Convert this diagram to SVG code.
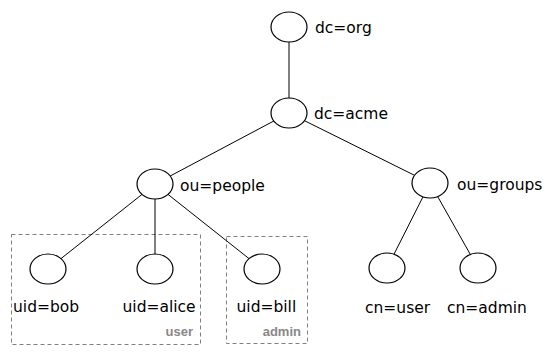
<svg xmlns="http://www.w3.org/2000/svg" width="553" height="355" viewBox="0 0 553 355">
<style>
.n{fill:#fff;stroke:#000;stroke-width:1.2}
.t{font-family:"DejaVu Sans",Verdana,sans-serif;font-size:15.5px;fill:#000}
.e{stroke:#000;stroke-width:1;fill:none}
.g{fill:none;stroke:#808080;stroke-width:1;stroke-dasharray:4 3}
.gl{font-family:"Liberation Sans",Arial,sans-serif;font-size:13px;font-weight:bold;fill:#888;text-anchor:end}
</style>
<rect width="553" height="355" fill="#fff"/>
<g id="group-user"><rect class="g" x="11.5" y="234.5" width="189" height="110"/><text class="gl" x="193" y="336">user</text></g>
<g id="group-admin"><rect class="g" x="226.5" y="236.5" width="81" height="107"/><text class="gl" x="301" y="336">admin</text></g>
<g id="connectors">
<line class="e" x1="289" y1="42" x2="289" y2="98"/>
<line class="e" x1="273.8" y1="121" x2="170.2" y2="176"/>
<line class="e" x1="304.5" y1="120.7" x2="414.5" y2="175.3"/>
<line class="e" x1="142" y1="194.4" x2="61" y2="258.6"/>
<line class="e" x1="155" y1="199" x2="155" y2="254"/>
<line class="e" x1="168" y1="194.4" x2="249" y2="258.6"/>
<line class="e" x1="423" y1="196.8" x2="394" y2="254.2"/>
<line class="e" x1="437.7" y1="196.6" x2="470.3" y2="254.4"/>
</g>
<g id="dc-org"><ellipse class="n" cx="289" cy="27" rx="18" ry="15"/><text class="t" x="315" y="32.5">dc=org</text></g>
<g id="dc-acme"><ellipse class="n" cx="289" cy="113" rx="18" ry="15"/><text class="t" x="314" y="119">dc=acme</text></g>
<g id="ou-people"><ellipse class="n" cx="155" cy="184" rx="18" ry="15"/><text class="t" x="180" y="190.5">ou=people</text></g>
<g id="ou-groups"><ellipse class="n" cx="430" cy="183" rx="18" ry="15"/><text class="t" x="457" y="190">ou=groups</text></g>
<g id="uid-bob"><ellipse class="n" cx="48" cy="269" rx="18" ry="15"/><text class="t" x="13" y="311.5">uid=bob</text></g>
<g id="uid-alice"><ellipse class="n" cx="155" cy="269" rx="18" ry="15"/><text class="t" x="122.5" y="311.5">uid=alice</text></g>
<g id="uid-bill"><ellipse class="n" cx="262" cy="269" rx="18" ry="15"/><text class="t" x="236.5" y="311.5">uid=bill</text></g>
<g id="cn-user"><ellipse class="n" cx="387" cy="268" rx="18" ry="15"/><text class="t" x="365" y="313">cn=user</text></g>
<g id="cn-admin"><ellipse class="n" cx="478" cy="268" rx="18" ry="15"/><text class="t" x="447" y="313">cn=admin</text></g>
</svg>
